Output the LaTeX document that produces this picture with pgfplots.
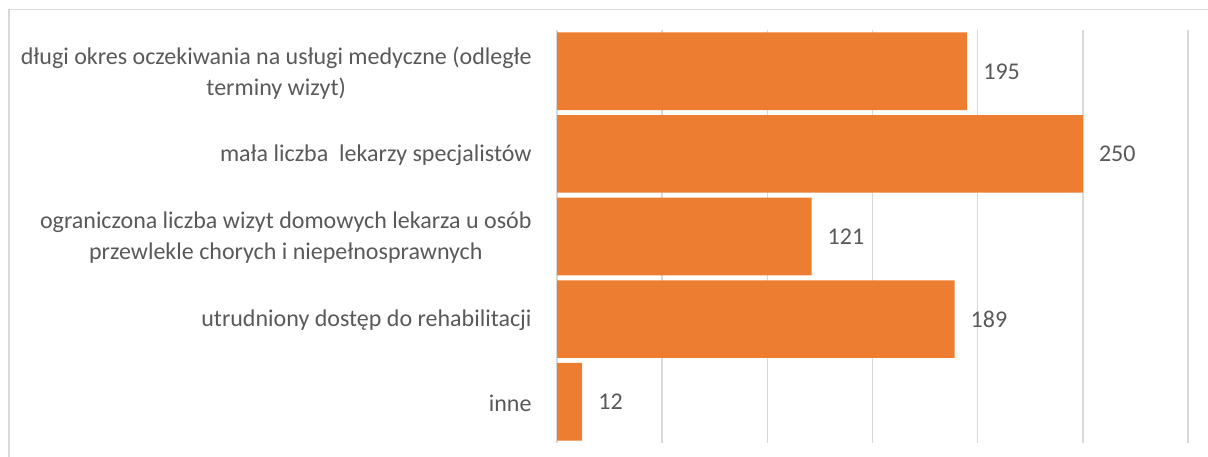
\documentclass[border=0pt]{standalone}
\usepackage{pgfplots}
\pgfplotsset{compat=1.18}
\usepackage{fontspec}
\setmainfont{Carlito}

\definecolor{barorange}{HTML}{ED7D31}
\definecolor{gridgray}{HTML}{D9D9D9}
\definecolor{txtgray}{HTML}{595959}

\begin{document}
\begin{tikzpicture}[x=1bp,y=1bp]
  \path[use as bounding box] (0,0) rectangle (1208,457);
  % chart frame (only top and left edges are visible)
  \draw[gridgray, line width=1.8bp] (9,0) -- (9,447.5) -- (1208,447.5);
  \begin{axis}[
      at={(557bp,14bp)}, anchor=south west,
      scale only axis,
      width=631bp, height=413bp,
      xbar, bar width=0.94,
      xmin=0, xmax=300,
      ymin=-0.5, ymax=4.5, y dir=reverse,
      xtick={0,50,...,300}, xticklabels={},
      ytick={0,1,2,3,4},
      yticklabels={
        {długi okres oczekiwania na usługi medyczne (odległe\\terminy wizyt)},
        {mała liczba\ \ lekarzy specjalistów},
        {ograniczona liczba wizyt domowych lekarza u osób\\przewlekle chorych i niepełnosprawnych},
        {utrudniony dostęp do rehabilitacji},
        {inne}},
      yticklabel style={align=center, anchor=east, inner sep=0pt, xshift=-21bp,
        yshift=-1.5bp, text=txtgray, font=\fontsize{24bp}{31bp}\selectfont},
      xmajorgrids,
      major grid style={gridgray, line width=1.5bp},
      axis line style={draw=none},
      tick style={draw=none},
      /pgf/number format/assume math mode=true,
      nodes near coords,
      nodes near coords style={text=txtgray, anchor=west, inner sep=0pt, xshift=16bp,
        font=\fontsize{24bp}{31bp}\selectfont},
    ]
    \addplot[fill=barorange, draw=none] coordinates {
      (195,0)
      (250,1)
      (121,2)
      (189,3)
      (12,4)
    };
  \end{axis}
\end{tikzpicture}
\end{document}
